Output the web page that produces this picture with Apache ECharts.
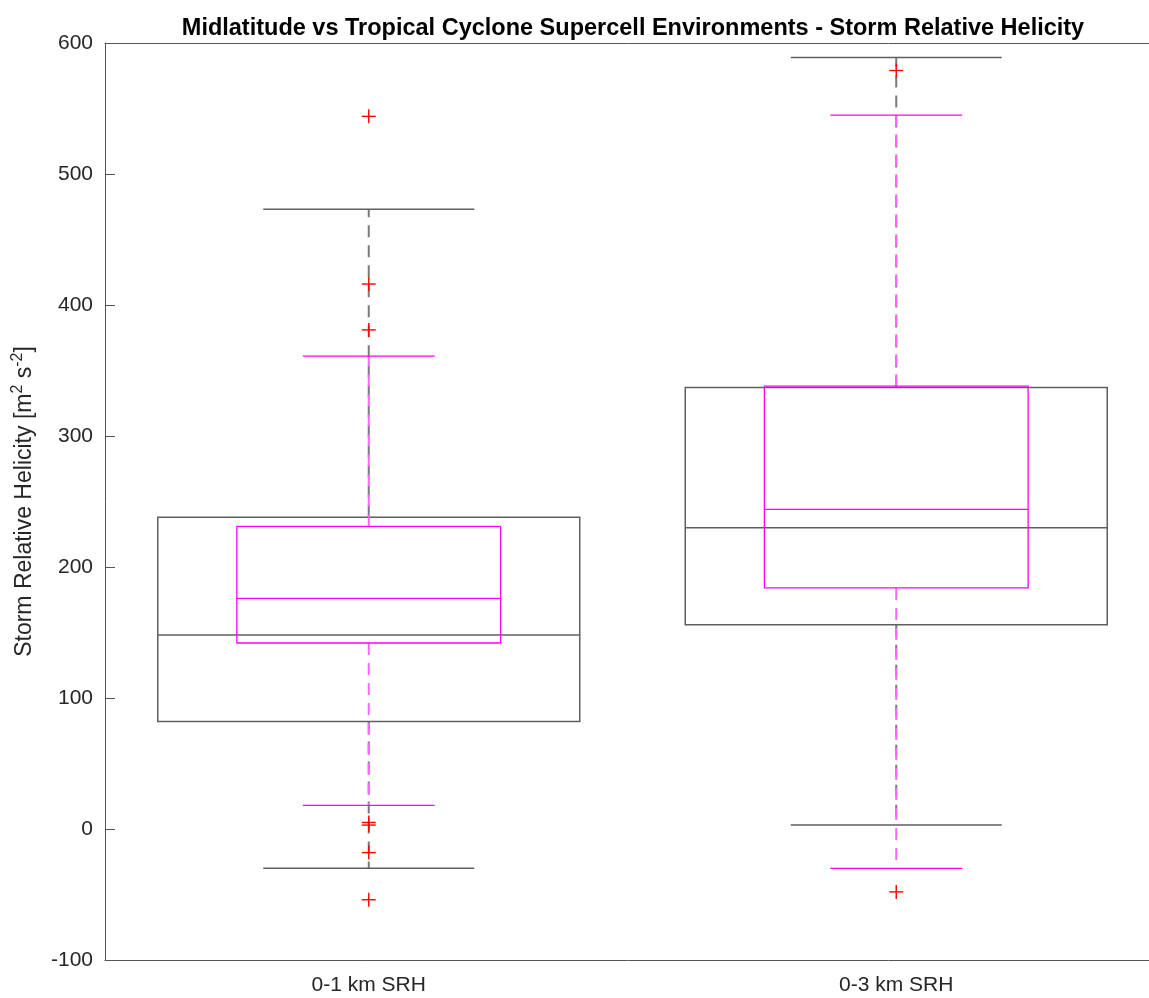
<!DOCTYPE html>
<html>
<head>
<meta charset="utf-8">
<script src="https://cdn.jsdelivr.net/npm/echarts@6/dist/echarts.min.js"></script>
<style>
  html, body { margin: 0; padding: 0; background: #fff; }
  #chart { width: 1149px; height: 998px; }
</style>
</head>
<body>
<div id="chart"></div>
<script>
// categories and box statistics: [lower whisker, Q1, median, Q3, upper whisker]
const categories = ['0-1 km SRH', '0-3 km SRH'];
const midlatStats = [
  [-30, 82, 148, 238, 473],
  [3, 156, 230, 337, 589]
];
const tropicalStats = [
  [18, 142, 176, 231, 361],
  [-30, 184, 244, 338, 545]
];
// outliers as [category index, value]
const outliers = [
  [0, 544], [0, 416], [0, 381], [0, 5], [0, 3], [0, -18], [0, -54],
  [1, 579], [1, -48]
];
const yTicks = [-100, 0, 100, 200, 300, 400, 500, 600];

const axisColor = '#262626';
const lineColor = '#555';
const font = 'Liberation Sans, Arial, Helvetica, sans-serif';

function boxRender(boxFrac, capFrac, boxColor, boxWidth, whiskColor, whiskWidth) {
  return function (params, api) {
    const idx = api.value(0);
    const band = api.size([1, 0])[0];
    const cx = api.coord([idx, 0])[0];
    const y = k => api.coord([idx, api.value(k)])[1];
    const lo = y(1), q1 = y(2), md = y(3), q3 = y(4), hi = y(5);
    const bw = band * boxFrac / 2, cw = band * capFrac / 2;
    const solid = { stroke: boxColor, lineWidth: boxWidth, fill: null };
    const dashed = { stroke: whiskColor, lineWidth: whiskWidth, lineDash: [12, 8] };
    return {
      type: 'group',
      children: [
        { type: 'line', shape: { x1: cx, y1: q3, x2: cx, y2: hi }, style: dashed },
        { type: 'line', shape: { x1: cx, y1: q1, x2: cx, y2: lo }, style: dashed },
        { type: 'line', shape: { x1: cx - cw, y1: hi, x2: cx + cw, y2: hi }, style: solid },
        { type: 'line', shape: { x1: cx - cw, y1: lo, x2: cx + cw, y2: lo }, style: solid },
        { type: 'rect', shape: { x: cx - bw, y: q3, width: 2 * bw, height: q1 - q3 }, style: solid },
        { type: 'line', shape: { x1: cx - bw, y1: md, x2: cx + bw, y2: md }, style: solid }
      ]
    };
  };
}

function plusRender(params, api) {
  const p = api.coord([api.value(0), api.value(1)]);
  const h = 7;
  const st = { stroke: '#ff0000', lineWidth: 1.4 };
  return {
    type: 'group',
    children: [
      { type: 'line', shape: { x1: p[0] - h, y1: p[1], x2: p[0] + h, y2: p[1] }, style: st },
      { type: 'line', shape: { x1: p[0], y1: p[1] - h, x2: p[0], y2: p[1] + h }, style: st }
    ]
  };
}

const chart = echarts.init(document.getElementById('chart'));
const option = {
  backgroundColor: '#fff',
  animation: false,
  title: {
    text: 'Midlatitude vs Tropical Cyclone Supercell Environments - Storm Relative Helicity',
    left: 628,
    top: 12,
    textAlign: 'center',
    textStyle: { fontFamily: font, fontSize: 23.5, fontWeight: 'bold', color: '#000' }
  },
  grid: { left: 105, right: -11, top: 43, bottom: 38, outerBoundsMode: 'none', containLabel: false },
  xAxis: [
    {
      type: 'category',
      data: categories,
      position: 'bottom',
      axisLine: { onZero: false, lineStyle: { color: lineColor, width: 1 } },
      axisTick: { inside: true, alignWithLabel: true, length: 10, lineStyle: { color: lineColor } },
      axisLabel: { fontFamily: font, fontSize: 21, color: axisColor, margin: 15 },
      splitLine: { show: false }
    },
    {
      type: 'category',
      data: categories,
      position: 'top',
      axisLine: { onZero: false, lineStyle: { color: lineColor, width: 1 } },
      axisTick: { inside: true, alignWithLabel: true, length: 10, lineStyle: { color: lineColor } },
      axisLabel: { show: false },
      splitLine: { show: false }
    }
  ],
  yAxis: [
    {
      type: 'value',
      min: yTicks[0],
      max: yTicks[yTicks.length - 1],
      interval: 100,
      position: 'left',
      name: 'Storm Relative Helicity [m{sup|2} s{sup|-2}]',
      nameLocation: 'middle',
      nameGap: 60,
      nameTextStyle: {
        fontFamily: font, fontSize: 23, color: axisColor, lineHeight: 30,
        rich: { sup: { fontFamily: font, fontSize: 16, color: axisColor, verticalAlign: 'top', lineHeight: 15 } }
      },
      axisLine: { show: true, onZero: false, lineStyle: { color: lineColor, width: 1 } },
      axisTick: { show: true, inside: true, length: 10, lineStyle: { color: lineColor } },
      axisLabel: { fontFamily: font, fontSize: 21, color: axisColor, margin: 12 },
      splitLine: { show: false }
    },
    {
      type: 'value',
      min: yTicks[0],
      max: yTicks[yTicks.length - 1],
      interval: 100,
      position: 'right',
      axisLine: { show: true, onZero: false, lineStyle: { color: lineColor, width: 1 } },
      axisTick: { show: true, inside: true, length: 10, lineStyle: { color: lineColor } },
      axisLabel: { show: false },
      splitLine: { show: false }
    }
  ],
  series: [
    {
      type: 'custom',
      name: 'Midlatitude',
      renderItem: boxRender(0.8, 0.4, '#5f5f5f', 1.5, '#7a7a7a', 2),
      encode: { x: 0, y: [1, 2, 3, 4, 5] },
      data: midlatStats.map((s, i) => [i].concat(s)),
      z: 2
    },
    {
      type: 'custom',
      name: 'Tropical Cyclone',
      renderItem: boxRender(0.5, 0.25, '#ff00ff', 1.3, '#ff66ff', 2),
      encode: { x: 0, y: [1, 2, 3, 4, 5] },
      data: tropicalStats.map((s, i) => [i].concat(s)),
      z: 3
    },
    {
      type: 'custom',
      name: 'Outliers',
      renderItem: plusRender,
      encode: { x: 0, y: 1 },
      data: outliers,
      z: 4
    }
  ]
};
chart.setOption(option);
</script>
</body>
</html>
